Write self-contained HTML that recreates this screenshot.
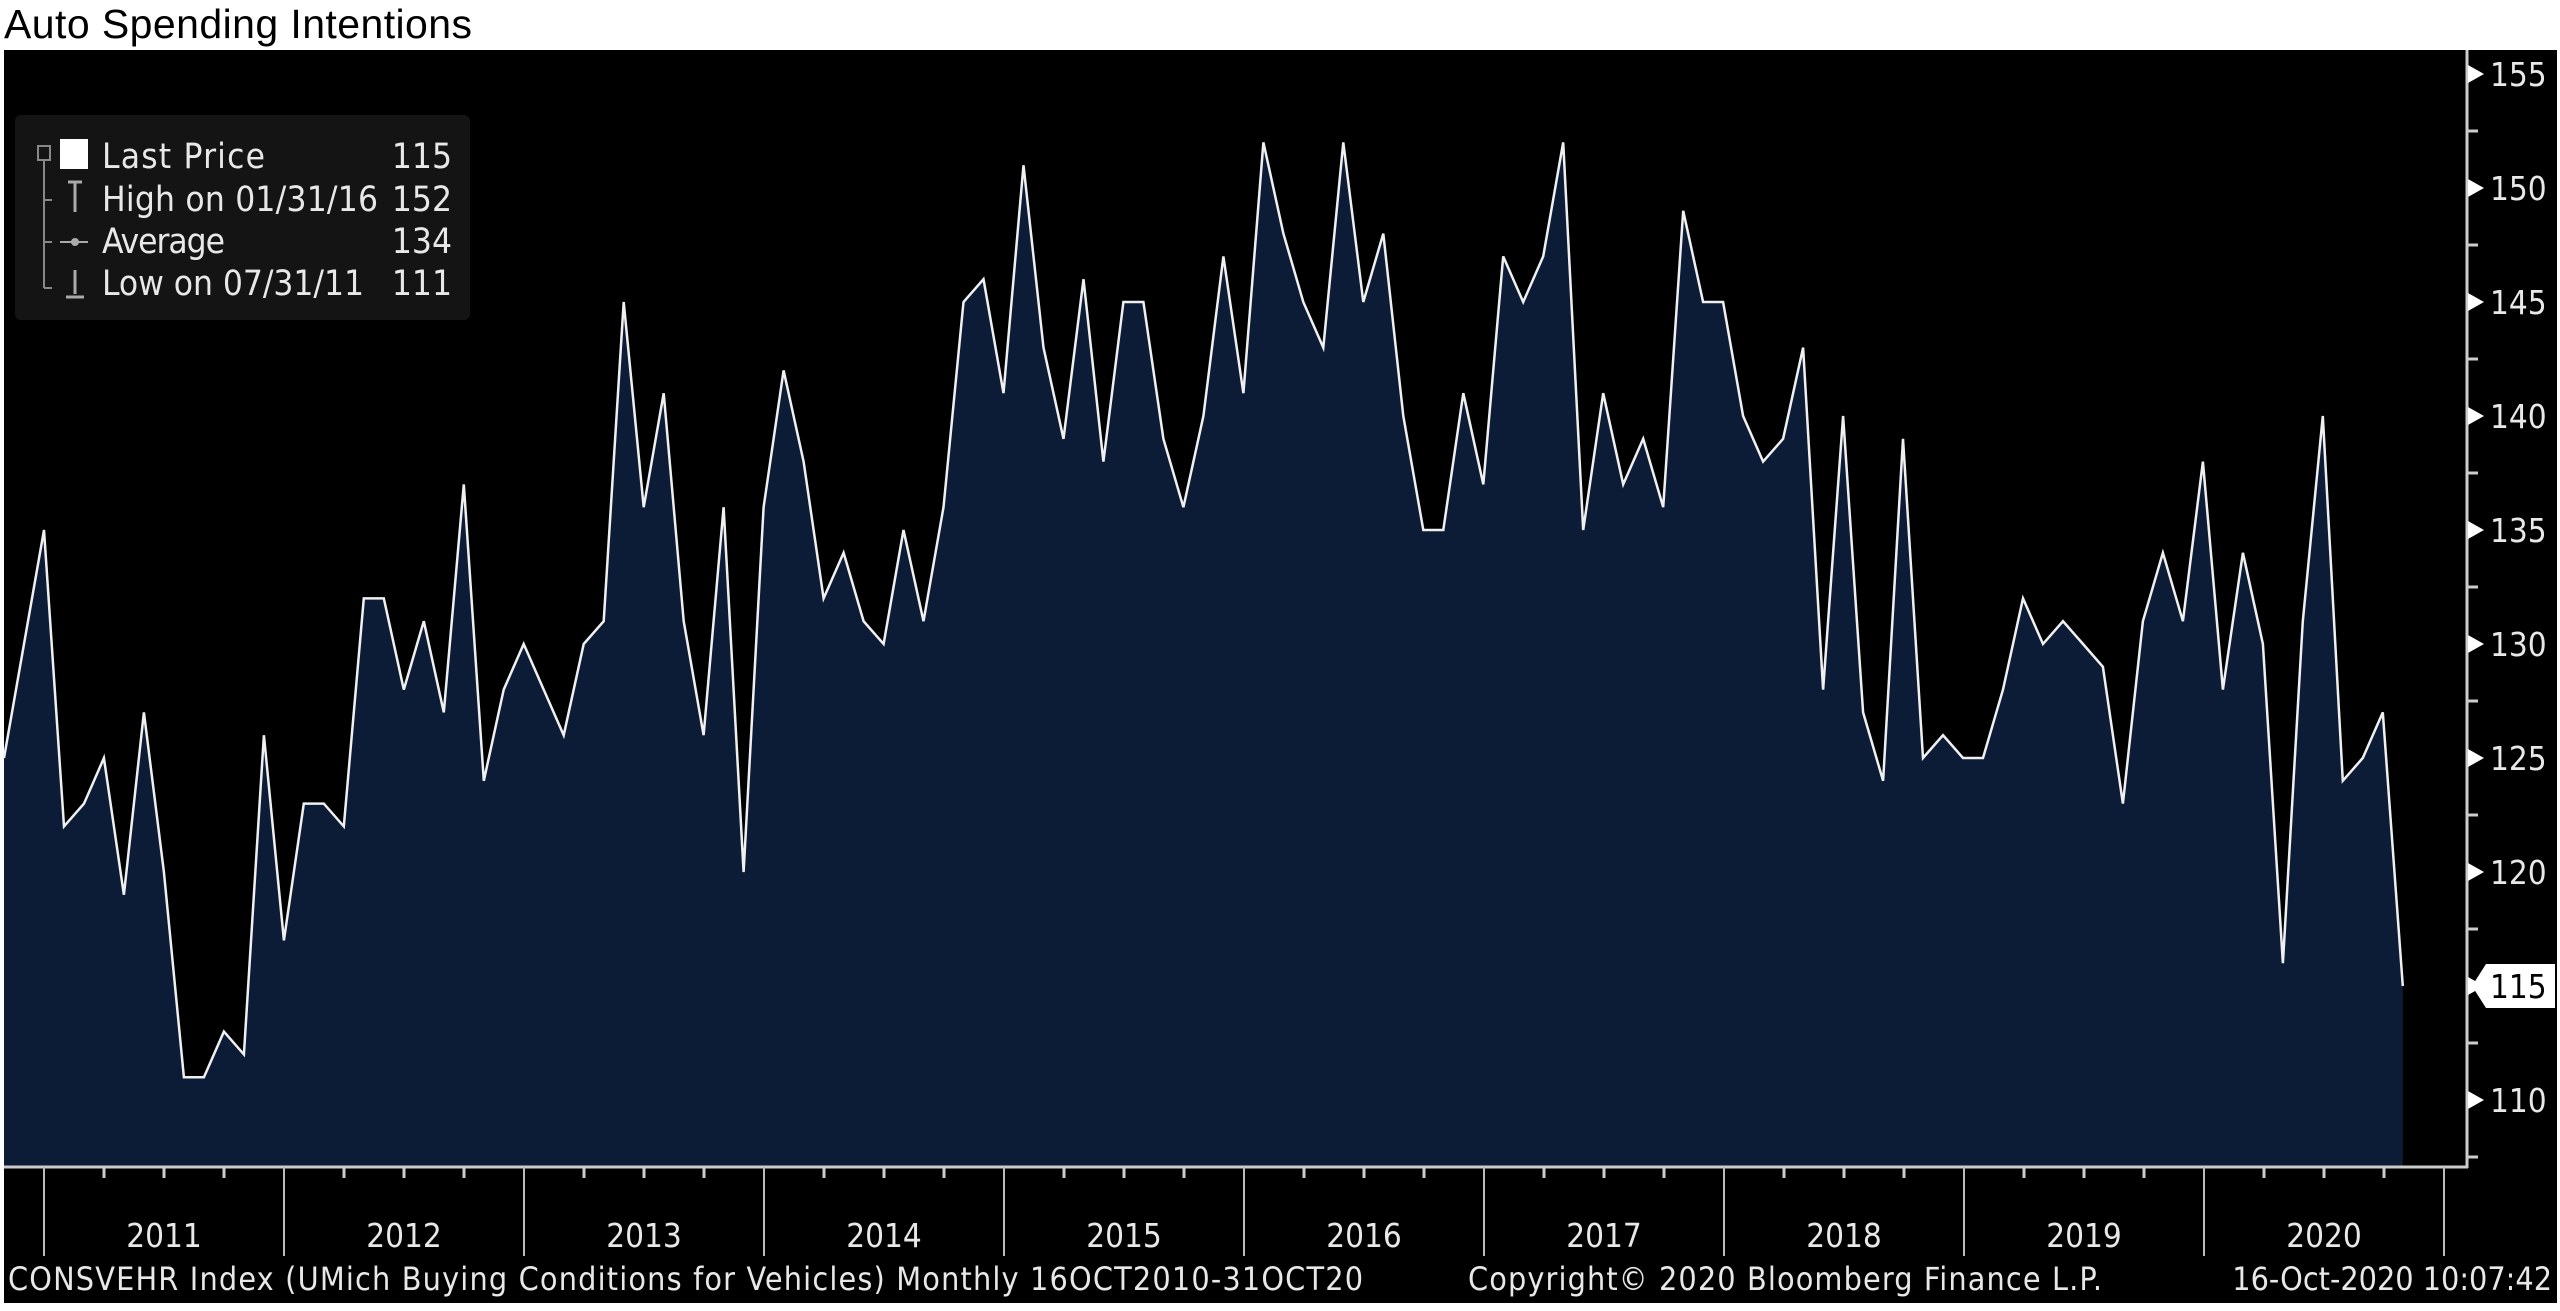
<!DOCTYPE html>
<html><head><meta charset="utf-8"><style>
html,body{margin:0;padding:0;background:#fff;width:2560px;height:1311px;overflow:hidden}
svg{display:block}
text{font-family:"DejaVu Sans Condensed","Liberation Sans Narrow","Liberation Sans",sans-serif;fill:#e8e8e8}
</style></head><body>
<svg id="s" width="2560" height="1311" xmlns="http://www.w3.org/2000/svg">
<rect x="0" y="0" width="2560" height="1311" fill="#fff"/>
<text x="4" y="38" textLength="468" style="font-family:'Liberation Sans',sans-serif;font-size:41px;fill:#000">Auto Spending Intentions</text>
<rect x="4" y="50" width="2553" height="1253" fill="#000"/>
<g id="plot"></g>
<line x1="4" y1="1167" x2="2468" y2="1167" stroke="#ccc" stroke-width="3"/>
<line x1="2467" y1="50" x2="2467" y2="1168" stroke="#ccc" stroke-width="3"/>
<g id="ax"></g>
<rect x="15" y="115" width="455" height="205" rx="6" fill="#141414"/>
<rect x="38" y="146" width="12" height="14" fill="none" stroke="#888" stroke-width="2"/>
<line x1="44" y1="160" x2="44" y2="288" stroke="#888" stroke-width="2"/>
<line x1="44" y1="200" x2="52" y2="200" stroke="#888" stroke-width="2"/>
<line x1="44" y1="242" x2="52" y2="242" stroke="#888" stroke-width="2"/>
<line x1="44" y1="288" x2="52" y2="288" stroke="#888" stroke-width="2"/>
<rect x="60" y="139" width="28" height="30" fill="#fff"/>
<path d="M68 182h14M75 182v30" stroke="#aaa" stroke-width="3"/>
<path d="M60 242h28" stroke="#aaa" stroke-width="2"/><circle cx="75" cy="242" r="4" fill="#aaa"/>
<path d="M75 270v24M66 297h18" stroke="#aaa" stroke-width="3"/>
<g style="font-size:35px">
<text x="102" y="168" textLength="163">Last Price</text><text x="452" y="168" text-anchor="end">115</text>
<text x="102" y="211" textLength="276">High on 01/31/16</text><text x="452" y="211" text-anchor="end">152</text>
<text x="102" y="253" textLength="123">Average</text><text x="452" y="253" text-anchor="end">134</text>
<text x="102" y="295" textLength="262">Low on 07/31/11</text><text x="452" y="295" text-anchor="end">111</text>
</g>
<path d="M2472 986 L2486 964 L2555 964 L2555 1008 L2486 1008 Z" fill="#fff"/>
<text x="2490" y="998" style="font-size:33px;fill:#000">115</text>
<g style="font-size:32px">
<text x="8" y="1290" textLength="1355">CONSVEHR Index (UMich Buying Conditions for Vehicles)  Monthly 16OCT2010-31OCT20</text>
<text x="1468" y="1290" textLength="634">Copyright© 2020 Bloomberg Finance L.P.</text>
<text x="2552" y="1290" text-anchor="end">16-Oct-2020 10:07:42</text>
</g>
</svg>
<script>
var v=[125,130,135,122,123,125,119,127,120,111,111,113,112,126,117,123,123,122,132,132,128,131,127,137,124,128,130,128,126,130,131,145,136,141,131,126,136,120,136,142,138,132,134,131,130,135,131,136,145,146,141,151,143,139,146,138,145,145,139,136,140,147,141,152,148,145,143,152,145,148,140,135,135,141,137,147,145,147,152,135,141,137,139,136,149,145,145,140,138,139,143,128,140,127,124,139,125,126,125,125,128,132,130,131,130,129,123,131,134,131,138,128,134,130,116,131,140,124,125,127,115];
function X(i){return 4+i*19.99}
function Y(val){return 1100-(val-110)*22.8}
var pts=v.map(function(a,i){return X(i).toFixed(1)+","+Y(a).toFixed(1)}).join(" ");
var g=document.getElementById("plot");
g.innerHTML='<polygon points="4,1167 '+pts+' '+X(120).toFixed(1)+',1167" fill="#0c1c36"/><polyline points="'+pts+'" fill="none" stroke="#f0f0f0" stroke-width="2.5" stroke-linejoin="miter"/>';
var a="";
for(var val=110;val<=155;val+=5){var y=Y(val);
a+='<path d="M2468 '+(y-9)+' L2484 '+y+' L2468 '+(y+9)+' Z" fill="#fff"/>';
a+='<text x="2490" y="'+(y+12)+'" style="font-size:33px">'+val+'</text>';}
for(var val=107.5;val<=155;val+=5){var y=Y(val);a+='<line x1="2468" y1="'+y+'" x2="2478" y2="'+y+'" stroke="#ccc" stroke-width="3"/>';}
for(var yr=0;yr<=10;yr++){var x=44+yr*240;
a+='<line x1="'+x+'" y1="1167" x2="'+x+'" y2="1256" stroke="#bbb" stroke-width="2"/>';
for(var q=1;q<4;q++){var xq=x+q*60; if(xq<2468)a+='<line x1="'+xq+'" y1="1167" x2="'+xq+'" y2="1178" stroke="#ccc" stroke-width="3"/>';}
if(yr<10)a+='<text x="'+(x+120)+'" y="1247" text-anchor="middle" style="font-size:33px">'+(2011+yr)+'</text>';}
document.getElementById("ax").innerHTML=a;
</script>
</body></html>
